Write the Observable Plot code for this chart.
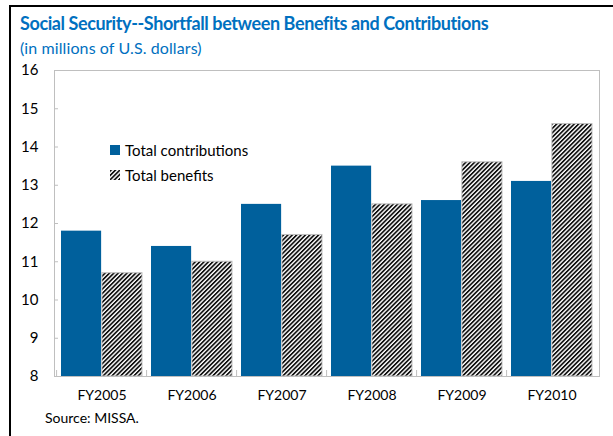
<!DOCTYPE html>
<html><head><meta charset="utf-8">
<script src="https://cdn.jsdelivr.net/npm/d3@7"></script>
<script src="https://cdn.jsdelivr.net/npm/@observablehq/plot@0.6"></script>
<style>
body{margin:0;background:#fff;}
#wrap{position:relative;width:613px;height:436px;overflow:hidden;font-family:Lato,"Open Sans",sans-serif;}
#border{position:absolute;left:9px;top:5px;width:700px;height:500px;border-left:2.5px solid #000;border-top:2.5px solid #000;}
#title{position:absolute;left:20px;top:12px;font-weight:bold;font-size:18px;letter-spacing:-0.4px;color:#0070C0;white-space:nowrap;}
#subtitle{position:absolute;left:20px;top:38px;font-size:16px;letter-spacing:0.1px;color:#0070C0;white-space:nowrap;}
#source{position:absolute;left:45px;top:409px;font-size:14px;color:#000;white-space:nowrap;}
#chart{position:absolute;left:0;top:0;}
.leg{position:absolute;left:110px;font-size:15px;color:#000;white-space:nowrap;display:flex;align-items:center;}
.leg svg{margin-right:5px;}
</style>
</head><body>
<div id="wrap">
  <div id="chart"></div>
  <div id="border"></div>
  <div id="title">Social Security--Shortfall between Benefits and Contributions</div>
  <div id="subtitle">(in millions of U.S. dollars)</div>
  <div class="leg" style="top:141px"><svg width="10" height="10"><rect width="10" height="10" fill="#00609C"/></svg>Total contributions</div>
  <div class="leg" style="top:166px"><svg width="10" height="10"><rect width="10" height="10" fill="url(#hatch)"/></svg>Total benefits</div>
  <div id="source">Source: MISSA.</div>
</div>
<script>
const years = ["FY2005","FY2006","FY2007","FY2008","FY2009","FY2010"];
const contributions = [11.8, 11.4, 12.5, 13.5, 12.6, 13.1];
const benefits = [10.7, 11.0, 11.7, 12.5, 13.6, 14.6];
const yTicks = [8, 9, 10, 11, 12, 13, 14, 15, 16];

const data = years.map((y, i) => ({year: y, contributions: contributions[i], benefits: benefits[i]}));

const W = 613, H = 436, mL = 54, mR = 14, mT = 70, mB = 60;
const padIn = 0.1, padOut = 0.05;
const step = (W - mL - mR) / (years.length - padIn + 2 * padOut);
const bw = step * (1 - padIn);
const blue = "#00609C";
const grey = "#BFBFBF";

const chart = Plot.plot({
  width: W, height: H,
  marginLeft: mL, marginRight: mR, marginTop: mT, marginBottom: mB,
  style: {fontFamily: "Lato, 'Open Sans', sans-serif", fontSize: "14px", color: "#000", background: "transparent"},
  x: {domain: years, paddingInner: padIn, paddingOuter: padOut, label: null},
  y: {domain: [8, 16], label: null},
  marks: [
    Plot.barY(data, {x: "year", y1: 8, y2: "contributions", fill: blue, insetRight: bw / 2}),
    Plot.barY(data, {x: "year", y1: 8, y2: "benefits", fill: "url(#hatch)", stroke: grey, strokeWidth: 1, insetLeft: bw / 2}),
    Plot.frame({stroke: grey, strokeWidth: 1}),
    Plot.axisY({ticks: yTicks, tickSize: 0, tickPadding: 16, fontSize: 15, label: null}),
    Plot.axisY({ticks: yTicks, tickSize: 4, text: null, dx: 4, stroke: grey}),
    Plot.axisX({tickSize: 0, tickPadding: 14, fontSize: 14, label: null}),
    Plot.axisX({tickSize: 6, text: null, dy: -6, dx: -step / 2, stroke: grey})
  ]
});

const defs = d3.select(chart).insert("defs", ":first-child");
const pat = defs.append("pattern")
  .attr("id", "hatch").attr("patternUnits", "userSpaceOnUse")
  .attr("width", 3.1).attr("height", 3.1)
  .attr("patternTransform", "rotate(-45)");
pat.append("rect").attr("width", 3.1).attr("height", 3.1).attr("fill", "#fff");
pat.append("rect").attr("width", 3.1).attr("height", 1.7).attr("fill", "#111");

document.getElementById("chart").appendChild(chart);
</script>
</body></html>
